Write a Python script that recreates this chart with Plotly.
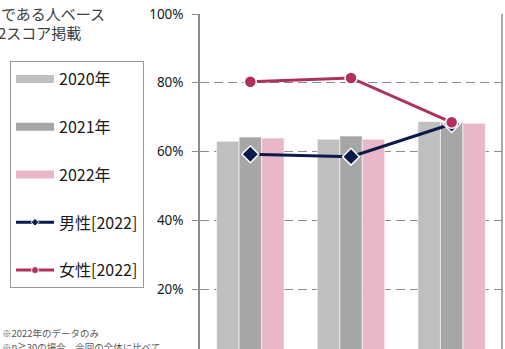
import plotly.graph_objects as go

categories = ["A", "B", "C"]
y2020 = [63.0, 63.6, 68.7]
y2021 = [64.2, 64.5, 68.4]
y2022 = [63.9, 63.6, 68.2]
male2022 = [59.2, 58.5, 68.0]
female2022 = [80.3, 81.4, 68.5]
tick_vals = [20, 40, 60, 80, 100]
tick_text = ["20%", "40%", "60%", "80%", "100%"]

W, H = 505, 349
ML, MR, MT, MB = 200, 3, 14, 0
PW = W - ML - MR
PH = H - MT - MB

def px(x):
    return (x - ML) / PW

def py(y):
    return 1 - (y - MT) / PH

FONT = "Noto Sans CJK JP"
C2020, C2021, C2022 = "#bfbfbf", "#a6a6a6", "#eab6c9"
CMALE, CFEMALE = "#0c1a4b", "#b0305c"

fig = go.Figure()
for name, vals, col in [("2020年", y2020, C2020), ("2021年", y2021, C2021), ("2022年", y2022, C2022)]:
    fig.add_trace(go.Bar(x=categories, y=vals, marker=dict(color=col, line=dict(color="white", width=0.6)),
                         showlegend=False, name=name))
fig.add_trace(go.Scatter(x=categories, y=male2022, mode="lines+markers", name="男性[2022]", showlegend=False,
                         line=dict(color=CMALE, width=3),
                         marker=dict(symbol="diamond", size=13, color=CMALE, line=dict(color="white", width=1.5))))
fig.add_trace(go.Scatter(x=categories, y=female2022, mode="lines+markers", name="女性[2022]", showlegend=False,
                         line=dict(color=CFEMALE, width=3),
                         marker=dict(symbol="circle", size=12, color=CFEMALE, line=dict(color="white", width=1.5))))
# legend entries
for name, col in [("2020年", C2020), ("2021年", C2021), ("2022年", C2022)]:
    fig.add_trace(go.Scatter(x=[None], y=[None], mode="lines", line=dict(color=col, width=8),
                             name=name, legendgroup=name))
fig.add_trace(go.Scatter(x=[None], y=[None], mode="lines+markers", name="男性[2022]", legendgroup="m",
                         line=dict(color=CMALE, width=3),
                         marker=dict(symbol="diamond", size=6, color=CMALE, line=dict(color="white", width=1))))
fig.add_trace(go.Scatter(x=[None], y=[None], mode="lines+markers", name="女性[2022]", legendgroup="f",
                         line=dict(color=CFEMALE, width=3),
                         marker=dict(symbol="circle", size=7, color=CFEMALE, line=dict(color="white", width=1))))

ymin = 100 - PH / (275 / 80)
fig.update_layout(
    width=W, height=H, margin=dict(l=ML, r=MR, t=MT, b=MB),
    paper_bgcolor="white", plot_bgcolor="white",
    barmode="group", bargap=0.33, bargroupgap=0,
    font=dict(family=FONT, color="#262626", size=13),
    xaxis=dict(showticklabels=False, showgrid=False, zeroline=False, showline=False, fixedrange=True),
    yaxis=dict(range=[ymin, 100], tickvals=tick_vals, ticktext=tick_text, showgrid=True,
               gridcolor="#8c8c8c", griddash="9px,5px", gridwidth=1, zeroline=False,
               showline=True, linecolor="#8c8c8c", linewidth=1.5, ticks="outside", ticklen=6,
               tickcolor="#8c8c8c", tickfont=dict(family="Noto Sans", size=13.5, color="#1a1a1a"),
               ticklabelstandoff=6),
    legend=dict(xref="container", yref="container", x=10 / W, y=1 - 61 / H, xanchor="left", yanchor="top",
                bordercolor="#999999", borderwidth=1, font=dict(size=16, color="#1a1a1a"),
                tracegroupgap=24, itemwidth=38, bgcolor="white", maxheight=320),
    showlegend=True,
)
# right frame line
fig.add_shape(type="line", xref="paper", yref="paper", x0=1, x1=1, y0=0, y1=1,
              line=dict(color="#8c8c8c", width=1.5))

fig.add_annotation(text="である人ベース", xref="paper", yref="paper", x=px(-1), y=py(13),
                   xanchor="left", yanchor="middle", showarrow=False, font=dict(size=15, color="#404040"))
fig.add_annotation(text="2スコア掲載", xref="paper", yref="paper", x=px(-4), y=py(32),
                   xanchor="left", yanchor="middle", showarrow=False, font=dict(size=15, color="#404040"))
fig.add_annotation(text="※2022年のデータのみ", xref="paper", yref="paper", x=px(0), y=py(333),
                   xanchor="left", yanchor="middle", showarrow=False, font=dict(size=9.5, color="#595959"))
fig.add_annotation(text="※n≧30の場合、今回の全体に比べて", xref="paper", yref="paper", x=px(0), y=py(347),
                   xanchor="left", yanchor="middle", showarrow=False, font=dict(size=9.5, color="#595959"))

fig.write_html("out.html")
